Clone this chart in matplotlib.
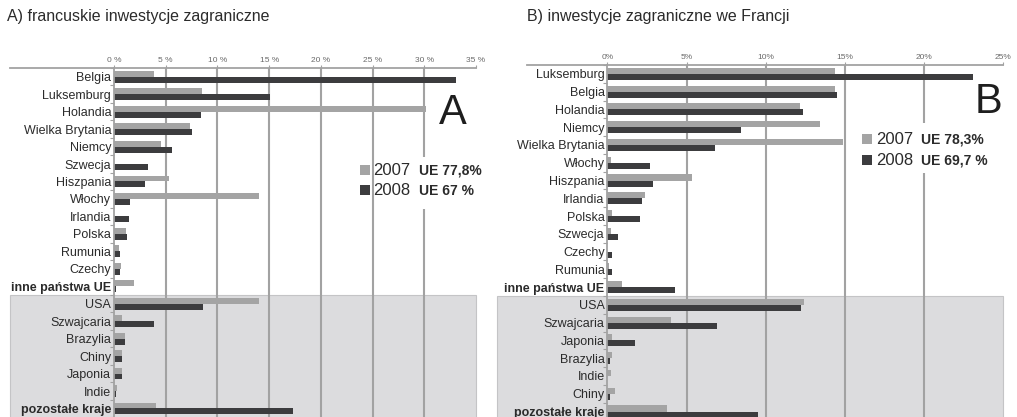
import matplotlib
matplotlib.use("Agg")
import matplotlib.pyplot as plt
from matplotlib.patches import Rectangle
import numpy as np

plt.rcParams['font.family'] = ['Liberation Sans', 'DejaVu Sans']

W, H = 1017, 417

# ---------------- data ----------------
title_a = "A) francuskie inwestycje zagraniczne"
title_b = "B) inwestycje zagraniczne we Francji"

cats_a = ["Belgia", "Luksemburg", "Holandia", "Wielka Brytania", "Niemcy", "Szwecja",
          "Hiszpania", "Włochy", "Irlandia", "Polska", "Rumunia", "Czechy",
          "inne państwa UE", "USA", "Szwajcaria", "Brazylia", "Chiny", "Japonia",
          "Indie", "pozostałe kraje"]
a_2007 = [3.9, 8.5, 30.2, 7.3, 4.5, 0.0, 5.3, 14.0, 0.0, 1.15, 0.5, 0.65,
          1.9, 14.0, 0.75, 1.05, 0.8, 0.8, 0.3, 4.1]
a_2008 = [33.1, 15.1, 8.4, 7.5, 5.6, 3.3, 3.0, 1.5, 1.45, 1.3, 0.6, 0.55,
          0.2, 8.6, 3.9, 1.1, 0.75, 0.8, 0.15, 17.3]
ticks_a = [0, 5, 10, 15, 20, 25, 30, 35]
ticklabels_a = ["0 %", "5 %", "10 %", "15 %", "20 %", "25 %", "30 %", "35 %"]
legend_a = ["UE 77,8%", "UE 67 %"]

cats_b = ["Luksemburg", "Belgia", "Holandia", "Niemcy", "Wielka Brytania", "Włochy",
          "Hiszpania", "Irlandia", "Polska", "Szwecja", "Czechy", "Rumunia",
          "inne państwa UE", "USA", "Szwajcaria", "Japonia", "Brazylia", "Indie",
          "Chiny", "pozostałe kraje"]
b_2007 = [14.4, 14.4, 12.15, 13.45, 14.9, 0.25, 5.35, 2.35, 0.3, 0.25, 0.0, 0.1,
          0.9, 12.4, 4.0, 0.3, 0.3, 0.25, 0.5, 3.8]
b_2008 = [23.1, 14.5, 12.35, 8.45, 6.8, 2.7, 2.87, 2.2, 2.07, 0.7, 0.3, 0.3,
          4.3, 12.25, 6.9, 1.75, 0.15, 0.0, 0.2, 9.5]
ticks_b = [0, 5, 10, 15, 20, 25]
ticklabels_b = ["0%", "5%", "10%", "15%", "20%", "25%"]
legend_b = ["UE 78,3%", "UE 69,7 %"]

years = ["2007", "2008"]
bold_cats = {"inne państwa UE", "pozostałe kraje"}

C07 = "#a4a4a4"
C08 = "#3c3c3e"
GRID = "#a2a2a2"
SHADE = "#dcdcde"
TXT = "#2b2b2b"

fig = plt.figure(figsize=(W / 100, H / 100), dpi=100)


def px_axes(x0, x1, ytop, ybot):
    return fig.add_axes([x0 / W, 1 - ybot / H, (x1 - x0) / W, (ybot - ytop) / H])


def panel(ax, cats, v07, v08, ticks, ticklabels, xmax, grid_vals, line_left_px,
          shade_left_px, x0px, x1px, lab_pad):
    n = len(cats)
    y = np.arange(n)
    ax.set_xlim(0, xmax)
    ax.set_ylim(n - 0.5, -0.5)
    for s in ["right", "bottom"]:
        ax.spines[s].set_visible(False)
    ax.spines["left"].set_color(GRID)
    ax.spines["left"].set_linewidth(1.3)
    ax.spines["top"].set_color(GRID)
    ax.spines["top"].set_linewidth(1.3)
    # gridlines
    for g in grid_vals:
        ax.axvline(g, color=GRID, lw=1.5, zorder=1)
    # shaded non-EU area
    scale = (x1px - x0px) / xmax
    left_frac = -(x0px - shade_left_px) / (x1px - x0px)
    ax.add_patch(Rectangle((left_frac, 0), 1 - left_frac, 0, transform=ax.transAxes))
    shade = Rectangle((-(x0px - shade_left_px) / scale, 12.5),
                      xmax + (x0px - shade_left_px) / scale, n - 12.5,
                      facecolor=SHADE, edgecolor="#c4c4c6", lw=0.8,
                      clip_on=False, zorder=0)
    ax.add_patch(shade)
    # top line extending left over label area
    ax.plot([-(x0px - line_left_px) / (x1px - x0px), 0], [1, 1], transform=ax.transAxes,
            color=GRID, lw=1.3, clip_on=False, zorder=3)
    h = 0.34
    ax.barh(y - h / 2, v07, height=h, color=C07, zorder=2)
    ax.barh(y + h / 2, v08, height=h, color=C08, zorder=2)
    ax.xaxis.tick_top()
    ax.set_xticks(ticks)
    ax.set_xticklabels(ticklabels, fontsize=6, color="#6a6a6a")
    ax.tick_params(axis="x", length=2, width=0.8, color=GRID, pad=1)
    ax.set_yticks(y)
    ax.set_yticklabels(cats, fontsize=9, color=TXT)
    for lbl in ax.get_yticklabels():
        if lbl.get_text() in bold_cats:
            lbl.set_fontweight("bold")
    ax.tick_params(axis="y", length=0, pad=lab_pad)
    ax.set_yticks(np.arange(n + 1) - 0.5, minor=True)
    ax.tick_params(axis="y", which="minor", length=3, width=0.8, color=GRID)
    ax.set_facecolor("none")


# Panel A
axA = px_axes(114, 476, 68, 417.2)
panel(axA, cats_a, a_2007, a_2008, ticks_a, ticklabels_a, 35,
      [5, 10, 15, 20, 25, 30], 10, 10, 114, 476, 2)
# Panel B
axB = px_axes(607.3, 1003.3, 65, 420.4)
panel(axB, cats_b, b_2007, b_2008, ticks_b, ticklabels_b, 25,
      [5, 10, 15, 20], 527, 497, 607.3, 1003.3, 2)


def fig_rect(x0, y0, x1, y1, **kw):
    fig.patches.append(Rectangle((x0 / W, 1 - y1 / H), (x1 - x0) / W, (y1 - y0) / H,
                                 transform=fig.transFigure, **kw))


def fig_text(x, y, s, **kw):
    fig.text(x / W, 1 - y / H, s, **kw)


# white boxes behind legends (interrupt gridlines)
fig_rect(377, 157, 480, 209, facecolor="white", edgecolor="none", zorder=5)
fig_rect(876, 123, 1000, 173, facecolor="white", edgecolor="none", zorder=5)

# legends A
for i, (yy, col) in enumerate([(170, C07), (190, C08)]):
    fig_rect(360, yy - 5, 370, yy + 5, facecolor=col, edgecolor="none", zorder=6)
    fig_text(373, yy + 0.5, years[i], fontsize=12, color=TXT, va="center", ha="left",
             zorder=7)
    fig_text(419, yy + 0.5, legend_a[i], fontsize=10, fontweight="bold", color=TXT,
             va="center", ha="left", zorder=7)
fig_text(453, 113, "A", fontsize=30, color="#1e1e1e", va="center", ha="center", zorder=7)

# legends B
for i, (yy, col) in enumerate([(139, C07), (160, C08)]):
    fig_rect(862, yy - 5, 872, yy + 5, facecolor=col, edgecolor="none", zorder=6)
    fig_text(876, yy + 0.5, years[i], fontsize=12, color=TXT, va="center", ha="left",
             zorder=7)
    fig_text(921, yy + 0.5, legend_b[i], fontsize=10, fontweight="bold", color=TXT,
             va="center", ha="left", zorder=7)
fig_text(988, 102, "B", fontsize=30, color="#1e1e1e", va="center", ha="center", zorder=7)

# titles
fig_text(7, 16, title_a, fontsize=11.5, color=TXT, va="center", ha="left")
fig_text(527, 16, title_b, fontsize=11.5, color=TXT, va="center", ha="left")

fig.savefig("out.png", dpi=100)
